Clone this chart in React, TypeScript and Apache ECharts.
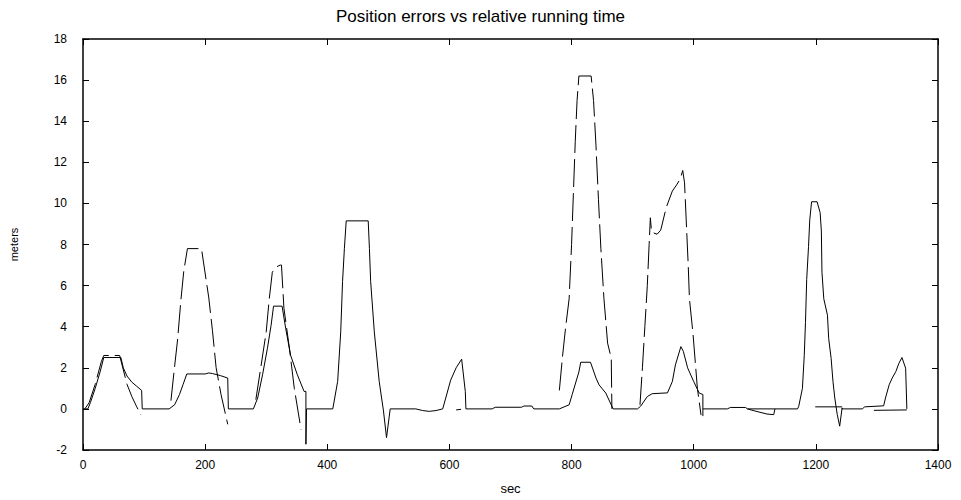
import React, { useEffect, useRef } from "react";
import * as echarts from "echarts";

// Tick values for both axes
const xTicks = [0, 200, 400, 600, 800, 1000, 1200, 1400];
const yTicks = [-2, 0, 2, 4, 6, 8, 10, 12, 14, 16, 18];

// Solid trace, first part [sec, meters]
const solidRunA: [number, number][] = [
  [0, 0], [8, 0], [12, 0.3], [20, 1.0], [28, 1.8], [34, 2.5], [62, 2.5], [66, 2.0],
  [72, 1.6], [80, 1.3], [88, 1.1], [96, 0.9], [97, 0], [141, 0], [150, 0.2], [158, 0.7],
  [164, 1.2], [170, 1.7], [200, 1.7], [206, 1.75], [212, 1.72], [225, 1.62], [237, 1.5],
  [238, 0], [279, 0], [286, 0.53], [294, 1.66], [302, 2.95], [308, 4.07], [312, 5.0],
  [326, 5.0], [332, 3.9], [340, 2.6], [351, 1.66], [362, 0.85], [365, 0.85], [365, -1.72],
  [366, 0], [409, 0], [417, 1.34], [422, 3.75], [425, 6.2], [428, 7.8], [431, 9.15],
  [467, 9.15], [469, 7.8], [471, 6.2], [477, 3.75], [485, 1.34], [492, -0.1], [497, -1.4],
  [503, 0], [545, 0], [556, -0.08], [567, -0.12], [578, -0.08], [589, 0], [594, 0.53],
  [602, 1.4], [611, 2.0], [620, 2.42], [626, 0.85], [627, 0], [670, 0], [675, 0.08],
  [718, 0.08], [722, 0.14], [735, 0.14], [738, 0], [780, 0], [796, 0.2], [801, 0.7],
  [812, 1.8], [815, 2.27], [831, 2.27], [840, 1.5], [845, 1.17], [856, 0.77], [868, 0],
  [908, 0], [913, 0.13], [924, 0.6], [932, 0.74], [957, 0.78], [965, 1.33], [970, 2.14],
  [979, 3.03], [983, 2.8], [990, 2.0], [1000, 1.33], [1009, 0.77], [1015, 0.7], [1015, -0.35],
];

// Solid trace, second part
const solidRunB: [number, number][] = [
  [1015, 0], [1055, 0], [1060, 0.07], [1085, 0.07], [1088, 0], [1170, 0], [1172, 0.13],
  [1178, 1.0], [1181, 2.6], [1183, 4.2], [1185, 6.3], [1188, 7.9], [1190, 9.2],
  [1193, 10.08], [1202, 10.08], [1207, 9.55], [1209, 8.66], [1210, 6.65], [1213, 5.36],
  [1219, 4.56], [1221, 3.43], [1225, 2.46], [1228, 1.34], [1231, 0.53], [1235, -0.27],
  [1239, -0.84], [1243, 0.05], [1243, 0], [1276, 0], [1280, 0.1], [1311, 0.15],
  [1314, 0.53], [1320, 1.17], [1325, 1.5], [1331, 1.82], [1336, 2.22], [1341, 2.5],
  [1347, 1.98], [1349, 0],
];

// Short solid pieces
const solidDip: [number, number][] = [[1088, 0], [1100, -0.1], [1120, -0.25], [1131, -0.28], [1133, 0]];
const solidShelf: [number, number][] = [[1199, 0.1], [1243, 0.1]];
const solidBase: [number, number][] = [[1295, -0.07], [1349, -0.05]];
const solidStub: [number, number][] = [[611, -0.05], [619, -0.02]];

// Dashed trace, one array per excursion
const dashedRun1: [number, number][] = [
  [3, 0], [10, 0.3], [20, 1.2], [30, 2.3], [34, 2.6], [60, 2.6], [66, 1.9], [72, 1.2],
  [80, 0.6], [88, 0.1], [95, -0.3],
];
const dashedRun2: [number, number][] = [
  [144, 0.4], [149, 1.8], [155, 3.4], [160, 5.2], [165, 6.7], [171, 7.8], [194, 7.8],
  [197, 7.2], [206, 5.4], [212, 3.8], [218, 2.0], [226, 0.7], [237, -0.75],
];
const dashedRun3: [number, number][] = [
  [283, 0.45], [290, 1.8], [300, 3.75], [305, 5.36], [310, 6.65], [316, 6.9], [323, 7.0],
  [325, 7.0], [329, 4.9], [338, 2.95], [346, 1.0], [357, -1.0],
];
const dashedRun4: [number, number][] = [
  [780, 0.9], [785, 2.5], [790, 3.9], [796, 5.36], [800, 8.0], [803, 10.5], [806, 13.0],
  [809, 15.0], [812, 16.2], [832, 16.2], [836, 15.0], [840, 12.8], [844, 10.2],
  [848, 7.8], [853, 5.36], [859, 3.2], [865, 2.46], [866, 0],
];
const dashedRun5: [number, number][] = [
  [912, 0.2], [916, 2.0], [920, 4.0], [924, 6.0], [927, 8.0], [929, 9.3], [931, 8.6],
  [940, 8.5], [946, 8.7], [955, 9.8], [965, 10.6], [972, 10.9], [978, 11.2], [982, 11.6],
  [985, 11.0], [988, 9.0], [991, 7.0], [993, 5.36], [999, 3.6], [1006, 1.0], [1012, -0.3],
];

const solidPieces = [solidRunA, solidRunB, solidDip, solidShelf, solidBase, solidStub];
const dashedPieces = [dashedRun1, dashedRun2, dashedRun3, dashedRun4, dashedRun5];

const FONT = "'Liberation Sans', Arial, sans-serif";

export default function App() {
  const ref = useRef<HTMLDivElement>(null);

  useEffect(() => {
    document.body.style.margin = "0";
    if (!ref.current) return;
    const chart = echarts.init(ref.current, undefined, { renderer: "svg" });

    // Boxed frame with inward ticks on every side
    const frameAxis = {
      axisLine: { show: true, onZero: false, lineStyle: { color: "#000", width: 1.5 } },
      axisTick: { show: true, inside: true, length: 6, lineStyle: { color: "#000", width: 1 } },
      splitLine: { show: false },
    };

    const lineSeries = (data: [number, number][], dashed: boolean) => ({
      type: "line",
      data,
      symbol: "none",
      silent: true,
      lineStyle: {
        color: "#000",
        width: 1,
        type: dashed ? [28, 6] : "solid",
      },
    });

    const plain = (v: number) => String(v);

    chart.setOption({
      animation: false,
      backgroundColor: "#fff",
      title: {
        text: "Position errors vs relative running time",
        left: "center",
        top: 3,
        textStyle: { fontFamily: FONT, fontSize: 17, fontWeight: "normal", color: "#000" },
      },
      grid: { left: 82, right: 23, top: 39, bottom: 48 },
      xAxis: [
        {
          type: "value",
          min: xTicks[0],
          max: xTicks[xTicks.length - 1],
          interval: 200,
          position: "bottom",
          name: "sec",
          nameLocation: "middle",
          nameGap: 32,
          nameTextStyle: { fontFamily: FONT, fontSize: 13, color: "#000" },
          axisLabel: { fontFamily: FONT, fontSize: 12, color: "#000", margin: 9, formatter: plain },
          ...frameAxis,
        },
        {
          type: "value",
          min: xTicks[0],
          max: xTicks[xTicks.length - 1],
          interval: 200,
          position: "top",
          axisLabel: { show: false },
          ...frameAxis,
        },
      ],
      yAxis: [
        {
          type: "value",
          min: yTicks[0],
          max: yTicks[yTicks.length - 1],
          interval: 2,
          position: "left",
          name: "meters",
          nameLocation: "middle",
          nameGap: 64,
          nameTextStyle: { fontFamily: FONT, fontSize: 11, color: "#000" },
          axisLabel: { fontFamily: FONT, fontSize: 12, color: "#000", margin: 16, formatter: plain },
          ...frameAxis,
        },
        {
          type: "value",
          min: yTicks[0],
          max: yTicks[yTicks.length - 1],
          interval: 2,
          position: "right",
          axisLabel: { show: false },
          ...frameAxis,
        },
      ],
      series: [
        ...solidPieces.map((d) => lineSeries(d, false)),
        ...dashedPieces.map((d) => lineSeries(d, true)),
      ],
    });

    return () => chart.dispose();
  }, []);

  return <div ref={ref} style={{ width: 961, height: 500 }} />;
}
